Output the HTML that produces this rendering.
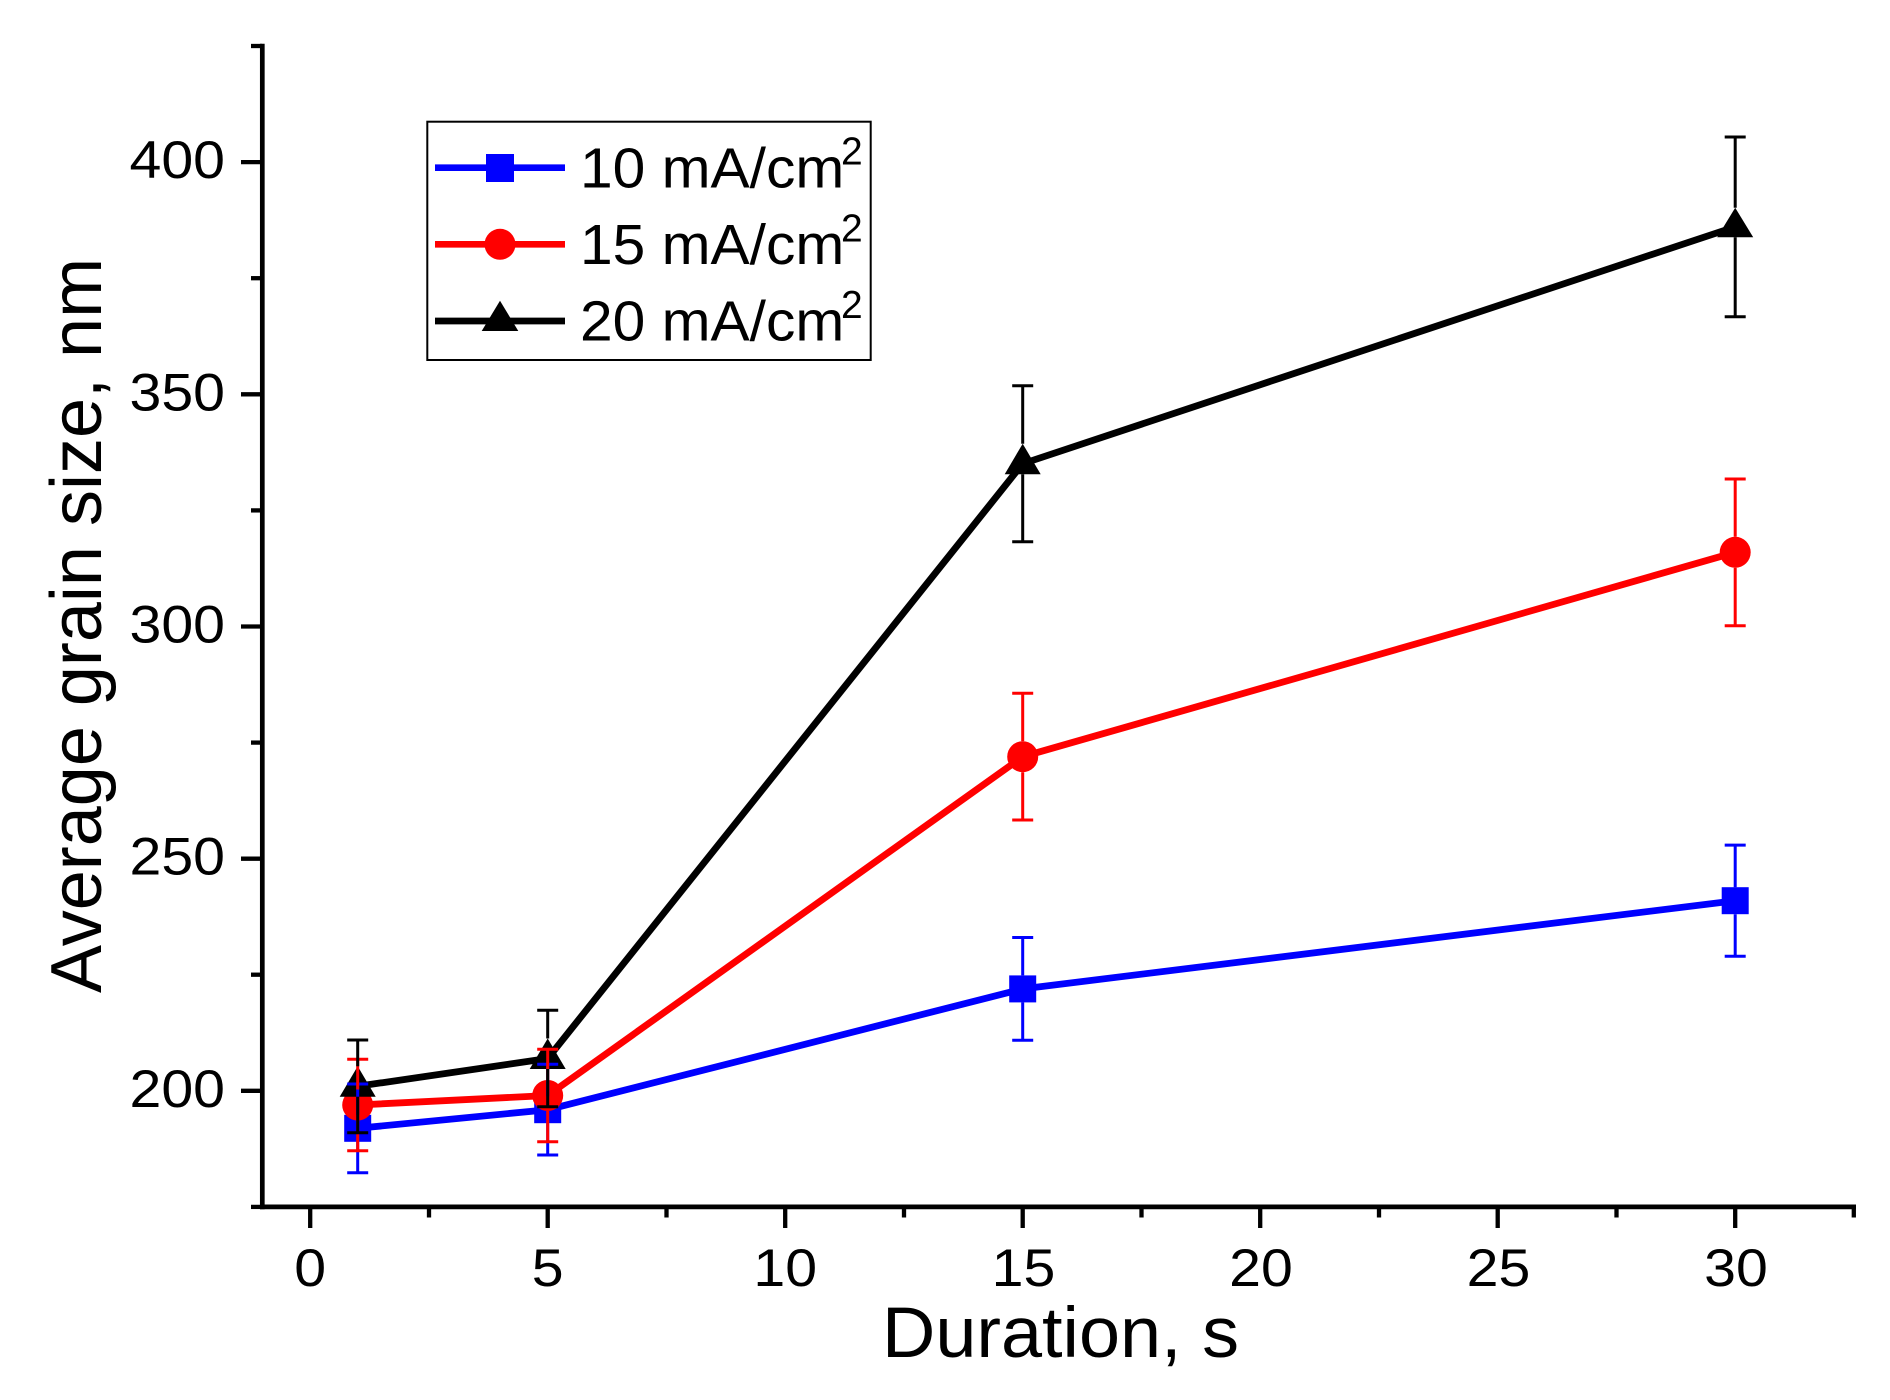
<!DOCTYPE html>
<html><head><meta charset="utf-8"><style>
html,body{margin:0;padding:0;background:#fff;}
svg{display:block;}
text{font-family:"Liberation Sans",Arial,sans-serif;fill:#000;}
</style></head><body>
<svg width="1890" height="1400" viewBox="0 0 1890 1400" xmlns="http://www.w3.org/2000/svg">
<rect width="1890" height="1400" fill="#fff"/>

<!-- axes -->
<g stroke="#000" stroke-width="4.7" fill="none" stroke-linecap="butt">
  <line x1="262.3" y1="43.7" x2="262.3" y2="1209.2"/>
  <line x1="260" y1="1206.9" x2="1856" y2="1206.9"/>
</g>
<!-- y ticks -->
<g stroke="#000" stroke-width="4.3">
  <line x1="241" y1="1090.8" x2="262" y2="1090.8"/>
  <line x1="241" y1="858.7" x2="262" y2="858.7"/>
  <line x1="241" y1="626.5" x2="262" y2="626.5"/>
  <line x1="241" y1="394.3" x2="262" y2="394.3"/>
  <line x1="241" y1="162.1" x2="262" y2="162.1"/>
  <line x1="251" y1="1206.9" x2="262" y2="1206.9"/>
  <line x1="251" y1="974.7" x2="262" y2="974.7"/>
  <line x1="251" y1="742.6" x2="262" y2="742.6"/>
  <line x1="251" y1="510.4" x2="262" y2="510.4"/>
  <line x1="251" y1="278.2" x2="262" y2="278.2"/>
  <line x1="251" y1="46" x2="262" y2="46"/>
</g>
<!-- x ticks -->
<g stroke="#000" stroke-width="4.3">
  <line x1="310.2" y1="1207" x2="310.2" y2="1228"/>
  <line x1="547.7" y1="1207" x2="547.7" y2="1228"/>
  <line x1="785.2" y1="1207" x2="785.2" y2="1228"/>
  <line x1="1022.7" y1="1207" x2="1022.7" y2="1228"/>
  <line x1="1260.2" y1="1207" x2="1260.2" y2="1228"/>
  <line x1="1497.7" y1="1207" x2="1497.7" y2="1228"/>
  <line x1="1735.2" y1="1207" x2="1735.2" y2="1228"/>
  <line x1="429" y1="1207" x2="429" y2="1217.5"/>
  <line x1="666.5" y1="1207" x2="666.5" y2="1217.5"/>
  <line x1="904" y1="1207" x2="904" y2="1217.5"/>
  <line x1="1141.5" y1="1207" x2="1141.5" y2="1217.5"/>
  <line x1="1379" y1="1207" x2="1379" y2="1217.5"/>
  <line x1="1616.5" y1="1207" x2="1616.5" y2="1217.5"/>
  <line x1="1853.8" y1="1207" x2="1853.8" y2="1217.5"/>
</g>

<!-- y tick labels -->
<g font-size="53" text-anchor="end">
  <text transform="translate(225,1106.8) scale(1.08,1)">200</text>
  <text transform="translate(225,874.7) scale(1.08,1)">250</text>
  <text transform="translate(225,642.5) scale(1.08,1)">300</text>
  <text transform="translate(225,410.3) scale(1.08,1)">350</text>
  <text transform="translate(225,178.1) scale(1.08,1)">400</text>
</g>
<!-- x tick labels -->
<g font-size="53" text-anchor="middle">
  <text transform="translate(310.2,1286) scale(1.08,1)">0</text>
  <text transform="translate(547.7,1286) scale(1.08,1)">5</text>
  <text transform="translate(785.2,1286) scale(1.08,1)">10</text>
  <text transform="translate(1023.5,1286) scale(1.08,1)">15</text>
  <text transform="translate(1261,1286) scale(1.08,1)">20</text>
  <text transform="translate(1498.5,1286) scale(1.08,1)">25</text>
  <text transform="translate(1736,1286) scale(1.08,1)">30</text>
</g>

<!-- axis titles -->
<text font-size="72" transform="translate(101,993) rotate(-90)">Average grain size, nm</text>
<text font-size="71" text-anchor="middle" transform="translate(1060.5,1357) scale(1.04,1)">Duration, s</text>

<!-- series lines -->
<g fill="none" stroke-width="6.8" stroke-linejoin="round">
  <polyline stroke="#0000ff" points="357.7,1128.3 547.7,1109.7 1022.7,988.9 1735.2,900.7"/>
  <polyline stroke="#ff0000" points="357.7,1105 547.7,1095.5 1022.7,756.7 1735.2,552.3"/>
  <polyline stroke="#000000" points="357.7,1086.3 547.7,1058.5 1022.7,463.7 1735.2,226.8"/>
</g>

<!-- markers -->
<g fill="#0000ff">
  <rect x="344.2" y="1114.8" width="27" height="27"/>
  <rect x="534.2" y="1096.2" width="27" height="27"/>
  <rect x="1009.2" y="975.4" width="27" height="27"/>
  <rect x="1721.7" y="887.2" width="27" height="27"/>
</g>
<g fill="#ff0000">
  <circle cx="357.7" cy="1105" r="15.5"/>
  <circle cx="547.7" cy="1095.5" r="15.5"/>
  <circle cx="1022.7" cy="756.7" r="15.5"/>
  <circle cx="1735.2" cy="552.3" r="15.5"/>
</g>
<g fill="#000">
  <polygon points="357.7,1066.3 375.7,1096.8 339.7,1096.8"/>
  <polygon points="547.7,1038.5 565.7,1069 529.7,1069"/>
  <polygon points="1022.7,443.7 1040.7,474.2 1004.7,474.2"/>
  <polygon points="1735.2,207.8 1753.2,237.3 1717.2,237.3"/>
</g>

<!-- error bars -->
<g stroke="#0000ff" stroke-width="3">
  <path d="M357.7,1084V1114.8M357.7,1141.8V1172.7M347.2,1084H368.2M347.2,1172.7H368.2"/>
  <path d="M547.7,1064.3V1096.2M547.7,1123.2V1155M537.2,1064.3H558.2M537.2,1155H558.2"/>
  <path d="M1022.7,937.5V975.4M1022.7,1002.4V1040.2M1012.2,937.5H1033.2M1012.2,1040.2H1033.2"/>
  <path d="M1735.2,845.1V887.2M1735.2,914.2V956.3M1724.7,845.1H1745.7M1724.7,956.3H1745.7"/>
</g>
<g stroke="#ff0000" stroke-width="3">
  <path d="M357.7,1059.3V1089.5M357.7,1120.5V1150.7M347.2,1059.3H368.2M347.2,1150.7H368.2"/>
  <path d="M547.7,1049.3V1080M547.7,1111V1141.7M537.2,1049.3H558.2M537.2,1141.7H558.2"/>
  <path d="M1022.7,693.3V741.2M1022.7,772.2V820M1012.2,693.3H1033.2M1012.2,820H1033.2"/>
  <path d="M1735.2,479V536.8M1735.2,567.8V625.7M1724.7,479H1745.7M1724.7,625.7H1745.7"/>
</g>
<g stroke="#000" stroke-width="3">
  <path d="M357.7,1040V1066.3M357.7,1096.8V1132.7M347.2,1040H368.2M347.2,1132.7H368.2"/>
  <path d="M547.7,1010.3V1038.5M547.7,1069V1106.7M537.2,1010.3H558.2M537.2,1106.7H558.2"/>
  <path d="M1022.7,385.7V443.7M1022.7,474.2V541.7M1012.2,385.7H1033.2M1012.2,541.7H1033.2"/>
  <path d="M1735.2,137V207.8M1735.2,237.3V316.7M1724.7,137H1745.7M1724.7,316.7H1745.7"/>
</g>

<!-- legend -->
<rect x="427.3" y="121.7" width="443.4" height="238.3" fill="none" stroke="#000" stroke-width="2"/>
<line x1="435" y1="167.7" x2="565" y2="167.7" stroke="#0000ff" stroke-width="6.7"/>
<rect x="486" y="154" width="28" height="28" fill="#0000ff"/>
<line x1="435" y1="244.3" x2="565" y2="244.3" stroke="#ff0000" stroke-width="6.7"/>
<circle cx="500" cy="244.3" r="15.5" fill="#ff0000"/>
<line x1="435" y1="321" x2="565" y2="321" stroke="#000" stroke-width="6.7"/>
<polygon points="500,300.7 518.3,331 481.7,331" fill="#000"/>

<g font-size="57">
  <text transform="translate(580,187.3) scale(1.03,1)">10 mA/cm</text>
  <text transform="translate(580,264) scale(1.03,1)">15 mA/cm</text>
  <text transform="translate(580,340.5) scale(1.03,1)">20 mA/cm</text>
</g>
<g font-size="39">
  <text x="841" y="164.7">2</text>
  <text x="841" y="241.4">2</text>
  <text x="841" y="317.9">2</text>
</g>
</svg>
</body></html>
